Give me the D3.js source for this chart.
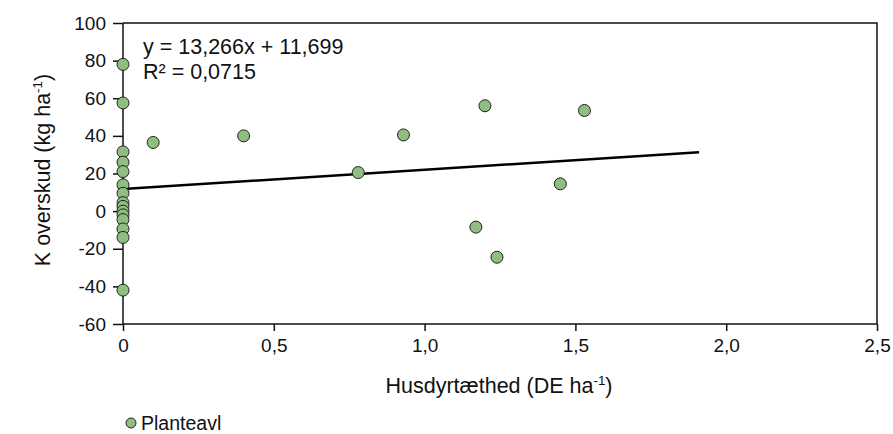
<!DOCTYPE html>
<html>
<head>
<meta charset="utf-8">
<script src="https://cdn.jsdelivr.net/npm/d3@7"></script>
<style>
  html, body { margin: 0; padding: 0; background: #fff; }
  svg text { font-family: "Liberation Sans", Arial, Helvetica, sans-serif; fill: #111; }
</style>
</head>
<body>
<svg id="chart" width="893" height="434"></svg>
<script>
// ---- data ----
const xValues = [0, 0, 0, 0, 0, 0, 0, 0, 0, 0, 0, 0, 0, 0, 0,
                 0.10, 0.40, 0.78, 0.93, 1.17, 1.20, 1.24, 1.45, 1.53];
const yValues = [78, 57.5, 31.5, 26, 21, 14, 9.5, 4.5, 2.5, 0, -2, -4.5, -9.5, -14, -42,
                 36.5, 40, 20.5, 40.5, -8.5, 56, -24.5, 14.5, 53.5];
const trendX = [0, 1.91];
const trendY = [11.7, 31.3];
const xTicks = [0, 0.5, 1.0, 1.5, 2.0, 2.5];
const xTickLabels = ["0", "0,5", "1,0", "1,5", "2,0", "2,5"];
const yTicks = [-60, -40, -20, 0, 20, 40, 60, 80, 100];
const yTickLabels = ["-60", "-40", "-20", "0", "20", "40", "60", "80", "100"];
const seriesName = "Planteavl";
const equationLines = ["y = 13,266x + 11,699", "R² = 0,0715"];

// ---- layout ----
const svg = d3.select("#chart");
const mLeft = 123, mRight = 877, mTop = 23, mBottom = 324;
const fs = 19;       // tick labels
const fsT = 21.5;    // titles, equation
const pointFill = "#8fbf80";

const x = d3.scaleLinear().domain([0, 2.5]).range([mLeft, mRight]);
const y = d3.scaleLinear().domain([-60, 100]).range([mBottom, mTop]);

// frame (top and right border)
svg.append("path")
  .attr("d", `M${mLeft},${mTop}H${mRight}V${mBottom}`)
  .attr("fill", "none").attr("stroke", "#111").attr("stroke-width", 1.5);

// axes
const xAxis = d3.axisBottom(x).tickValues(xTicks)
  .tickFormat((d, i) => xTickLabels[i]).tickSize(7).tickPadding(8);
const gx = svg.append("g").attr("transform", `translate(0,${mBottom})`).call(xAxis);
const yAxis = d3.axisLeft(y).tickValues(yTicks)
  .tickFormat((d, i) => yTickLabels[i]).tickSize(10).tickPadding(7);
const gy = svg.append("g").attr("transform", `translate(${mLeft},0)`).call(yAxis);
[gx, gy].forEach(g => {
  g.select(".domain").attr("stroke", "#111").attr("stroke-width", 1.5);
  g.selectAll(".tick line").attr("stroke", "#111").attr("stroke-width", 1.5);
  g.selectAll(".tick text").attr("font-size", fs)
    .attr("font-family", '"Liberation Sans", Arial, sans-serif').attr("fill", "#111");
});
gx.select(".domain").attr("d", `M${mLeft},0H${mRight}`);
gy.select(".domain").attr("d", `M0,${mBottom}V${mTop}`);

// trend line
svg.append("line")
  .attr("x1", x(trendX[0])).attr("y1", y(trendY[0]))
  .attr("x2", x(trendX[1])).attr("y2", y(trendY[1]))
  .attr("stroke", "#000").attr("stroke-width", 2.5);

// points
svg.append("g").selectAll("circle")
  .data(xValues.map((v, i) => [v, yValues[i]]))
  .join("circle")
  .attr("cx", d => x(d[0])).attr("cy", d => y(d[1]))
  .attr("r", 6)
  .attr("fill", pointFill).attr("stroke", "#222").attr("stroke-width", 1);

// equation
equationLines.forEach((t, i) => {
  svg.append("text").attr("x", 143).attr("y", 54 + i * 25)
    .attr("font-size", fsT).text(t);
});

// y title
const yt = svg.append("text")
  .attr("transform", `translate(50,170) rotate(-90)`)
  .attr("text-anchor", "middle").attr("font-size", fsT);
yt.append("tspan").text("K overskud (kg ha");
yt.append("tspan").attr("font-size", fsT * 0.62).attr("dy", -8).text("-1");
yt.append("tspan").attr("dy", 8).text(")");

// x title
const xt = svg.append("text")
  .attr("x", 499).attr("y", 393)
  .attr("text-anchor", "middle").attr("font-size", fsT);
xt.append("tspan").text("Husdyrtæthed (DE ha");
xt.append("tspan").attr("font-size", fsT * 0.62).attr("dy", -8).text("-1");
xt.append("tspan").attr("dy", 8).text(")");

// legend
svg.append("circle").attr("cx", 131).attr("cy", 423).attr("r", 5)
  .attr("fill", pointFill).attr("stroke", "#222").attr("stroke-width", 1);
svg.append("text").attr("x", 141).attr("y", 430).attr("font-size", 19.5).text(seriesName);
</script>
</body>
</html>
